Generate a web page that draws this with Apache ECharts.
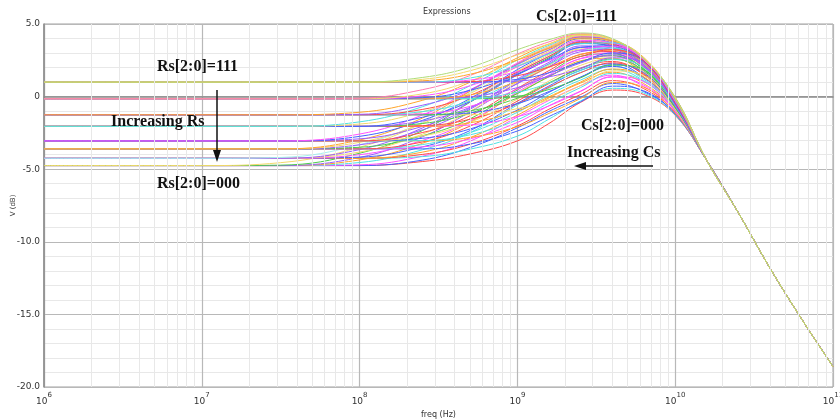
<!DOCTYPE html>
<html>
<head>
<meta charset="utf-8">
<title>Expressions</title>
<script src="https://cdn.jsdelivr.net/npm/echarts@6/dist/echarts.min.js"></script>
<style>
  html, body { margin: 0; padding: 0; background: #fff; }
  #chart { width: 840px; height: 419px; }
</style>
</head>
<body>
<div id="chart"></div>
<script>
// sample frequencies in Hz (1e6 ... 1e11)
const freqHz = [1e6, 1e7, 3.162e7, 1e8, 2.512e8, 5.012e8, 1e9, 1.585e9, 2.512e9, 3.981e9,
  6.310e9, 1e10, 1.585e10, 2.512e10, 3.981e10, 6.310e10, 1e11]

const rsCodes = ['000', '001', '010', '011', '100', '101', '110', '111']
const csCodes = ['000', '001', '010', '011', '100', '101', '110', '111']

// low frequency gain (dB) for each Rs code
const dcGain = [-4.75, -4.25, -3.6, -3.05, -2.05, -1.25, -0.15, 1.0]

// roll-off above 10 GHz, the same for every curve (dB at 15.8G, 25G, 40G, 63G, 100G)
const rollOff = [-4.4, -8.0, -11.8, -15.3, -18.6]

// mid band (31.6 MHz ... 10 GHz), one row per Cs code 000..111
const rs000 = [
  [-4.75, -4.75, -4.47, -3.95, -3.05, -1.85, -0.4, 0.45, 0.15, -1.29],
  [-4.75, -4.75, -4.37, -3.51, -2.15, -1.02, -0.05, 0.9, 0.35, -1.16],
  [-4.75, -4.7, -4.1, -3.07, -1.41, -0.26, 0.75, 1.48, 0.7, -0.97],
  [-4.75, -4.54, -3.66, -2.48, -0.57, 0.59, 1.67, 2.12, 1.2, -0.75],
  [-4.75, -4.36, -3.21, -1.76, 0.23, 1.36, 2.47, 2.65, 1.6, -0.55],
  [-4.75, -4.19, -2.76, -1.06, 0.92, 2.05, 3.19, 3.05, 1.9, -0.39],
  [-4.72, -3.9, -2.33, -0.39, 1.54, 2.67, 3.7, 3.4, 2.1, -0.27],
  [-4.55, -3.49, -1.79, 0.36, 2.19, 3.2, 3.98, 3.6, 2.2, -0.17]
]
const rs001 = [
  [-4.25, -4.25, -4.13, -3.62, -2.72, -1.55, -0.3, 0.57, 0.25, -1.26],
  [-4.25, -4.25, -3.98, -3.28, -2.02, -0.87, 0.14, 1.1, 0.55, -1.1],
  [-4.25, -4.25, -3.82, -2.83, -1.28, -0.09, 0.93, 1.68, 0.9, -0.91],
  [-4.25, -4.17, -3.46, -2.34, -0.47, 0.73, 1.81, 2.27, 1.35, -0.7],
  [-4.25, -4.0, -3.01, -1.69, 0.32, 1.48, 2.61, 2.8, 1.75, -0.51],
  [-4.25, -3.82, -2.58, -1.01, 1.01, 2.15, 3.28, 3.15, 2.0, -0.36],
  [-4.25, -3.65, -2.15, -0.35, 1.63, 2.77, 3.8, 3.5, 2.2, -0.23],
  [-4.19, -3.31, -1.75, 0.28, 2.16, 3.31, 4.08, 3.7, 2.3, -0.14]
]
const rs010 = [
  [-3.6, -3.6, -3.6, -3.27, -2.37, -1.37, -0.36, 0.72, 0.4, -1.21],
  [-3.6, -3.6, -3.46, -2.91, -1.78, -0.63, 0.38, 1.35, 0.8, -1.02],
  [-3.6, -3.6, -3.3, -2.49, -1.08, 0.12, 1.14, 1.88, 1.1, -0.84],
  [-3.6, -3.6, -3.12, -2.03, -0.31, 0.9, 1.97, 2.42, 1.5, -0.65],
  [-3.6, -3.49, -2.69, -1.53, 0.46, 1.65, 2.77, 2.95, 1.9, -0.46],
  [-3.6, -3.32, -2.28, -0.87, 1.13, 2.26, 3.39, 3.25, 2.1, -0.33],
  [-3.6, -3.15, -1.85, -0.21, 1.75, 2.88, 3.9, 3.6, 2.3, -0.2],
  [-3.6, -2.99, -1.47, 0.38, 2.26, 3.37, 4.13, 3.75, 2.35, -0.12]
]
const rs011 = [
  [-3.05, -3.05, -3.05, -2.82, -2.07, -1.16, -0.13, 0.97, 0.65, -1.13],
  [-3.05, -3.05, -3.03, -2.63, -1.6, -0.44, 0.62, 1.6, 1.05, -0.94],
  [-3.05, -3.05, -2.87, -2.23, -0.93, 0.29, 1.34, 2.08, 1.3, -0.78],
  [-3.05, -3.05, -2.7, -1.77, -0.17, 1.07, 2.15, 2.62, 1.7, -0.59],
  [-3.05, -3.05, -2.47, -1.32, 0.57, 1.79, 2.91, 3.1, 2.05, -0.41],
  [-3.05, -2.91, -2.05, -0.79, 1.21, 2.36, 3.49, 3.35, 2.2, -0.3],
  [-3.05, -2.74, -1.63, -0.13, 1.86, 2.99, 4.0, 3.7, 2.4, -0.17],
  [-3.05, -2.58, -1.26, 0.44, 2.32, 3.43, 4.18, 3.8, 2.4, -0.11]
]
const rs100 = [
  [-2.05, -2.05, -2.05, -1.95, -1.38, -0.64, 0.35, 1.37, 1.05, -1.0],
  [-2.05, -2.05, -2.05, -1.8, -0.99, -0.01, 1.0, 1.9, 1.35, -0.84],
  [-2.05, -2.05, -2.0, -1.56, -0.48, 0.65, 1.64, 2.33, 1.55, -0.7],
  [-2.05, -2.05, -1.85, -1.15, 0.21, 1.39, 2.4, 2.82, 1.9, -0.52],
  [-2.05, -2.05, -1.68, -0.74, 0.89, 2.05, 3.09, 3.25, 2.2, -0.36],
  [-2.05, -2.05, -1.42, -0.34, 1.49, 2.6, 3.65, 3.5, 2.35, -0.25],
  [-2.05, -1.89, -1.04, 0.21, 2.07, 3.11, 4.05, 3.75, 2.45, -0.15],
  [-2.05, -1.74, -0.69, 0.75, 2.52, 3.53, 4.23, 3.85, 2.45, -0.09]
]
const rs101 = [
  [-1.25, -1.25, -1.25, -1.25, -0.83, -0.21, 0.76, 1.77, 1.45, -0.87],
  [-1.25, -1.25, -1.25, -1.12, -0.48, 0.35, 1.33, 2.2, 1.65, -0.75],
  [-1.25, -1.25, -1.25, -0.98, -0.11, 0.95, 1.92, 2.58, 1.8, -0.62],
  [-1.25, -1.25, -1.18, -0.67, 0.51, 1.65, 2.62, 3.02, 2.1, -0.46],
  [-1.25, -1.25, -1.03, -0.3, 1.11, 2.22, 3.21, 3.35, 2.3, -0.33],
  [-1.25, -1.25, -0.88, 0.08, 1.69, 2.76, 3.75, 3.6, 2.45, -0.22],
  [-1.25, -1.22, -0.59, 0.47, 2.22, 3.22, 4.1, 3.8, 2.5, -0.14],
  [-1.25, -1.08, -0.25, 0.99, 2.67, 3.62, 4.28, 3.9, 2.5, -0.07]
]
const rs110 = [
  [-0.15, -0.15, -0.15, -0.15, 0.03, 0.49, 1.29, 2.17, 1.85, -0.75],
  [-0.15, -0.15, -0.15, -0.13, 0.3, 0.93, 1.8, 2.55, 2.0, -0.63],
  [-0.15, -0.15, -0.15, -0.01, 0.62, 1.44, 2.31, 2.88, 2.1, -0.52],
  [-0.15, -0.15, -0.15, 0.12, 1.03, 2.02, 2.89, 3.22, 2.3, -0.39],
  [-0.15, -0.15, -0.07, 0.43, 1.54, 2.54, 3.39, 3.5, 2.45, -0.28],
  [-0.15, -0.15, 0.06, 0.75, 2.05, 3.01, 3.87, 3.7, 2.55, -0.19],
  [-0.15, -0.15, 0.19, 1.07, 2.53, 3.43, 4.2, 3.9, 2.6, -0.11],
  [-0.15, -0.11, 0.48, 1.45, 2.93, 3.77, 4.33, 3.95, 2.55, -0.06]
]
const rs111 = [
  [1.0, 1.0, 1.0, 1.0, 1.07, 1.36, 1.94, 2.67, 2.35, -0.59],
  [1.0, 1.0, 1.0, 1.0, 1.19, 1.64, 2.38, 3.0, 2.45, -0.49],
  [1.0, 1.0, 1.0, 1.03, 1.44, 2.04, 2.76, 3.23, 2.45, -0.41],
  [1.0, 1.0, 1.0, 1.14, 1.72, 2.49, 3.21, 3.47, 2.55, -0.31],
  [1.0, 1.0, 1.0, 1.28, 2.11, 2.94, 3.64, 3.7, 2.65, -0.22],
  [1.0, 1.0, 1.09, 1.54, 2.52, 3.32, 4.03, 3.85, 2.7, -0.14],
  [1.0, 1.0, 1.19, 1.78, 2.88, 3.63, 4.25, 3.95, 2.65, -0.09],
  [1.0, 1.0, 1.32, 2.02, 3.23, 3.92, 4.38, 4.0, 2.6, -0.04]
]

const midBand = [rs000, rs001, rs010, rs011, rs100, rs101, rs110, rs111]

// line colours, same layout as the tables above (row = Rs, column = Cs)
const R = '#ff4a4a', O = '#ffa42a', Y = '#f3d86a', LG = '#aedc78', G = '#4ccc4c',
  C = '#4fe2e2', LC = '#a2efef', B = '#4463ff', V = '#9a5cff', M = '#ff52ff', P = '#ff7ab0'
const lineColors = [
  [R, B, M, C, O, V, G, Y],
  [C, R, O, B, M, Y, V, LC],
  [B, M, C, R, G, V, Y, O],
  [O, C, B, Y, R, V, B, M],
  [M, O, R, G, V, B, Y, C],
  [Y, B, G, M, C, R, V, O],
  [G, C, V, O, B, M, Y, P],
  [V, B, R, M, C, O, Y, LG]
]

// light grid lines at 2..9 of every decade
const minorFreq = []
for (let e = 6; e < 11; e++) {
  for (let k = 2; k <= 9; k++) minorFreq.push(k * Math.pow(10, e))
}

const series = [
  {
    type: 'line',
    data: [],
    silent: true,
    z: 1,
    markLine: {
      silent: true,
      symbol: 'none',
      animation: false,
      label: { show: false },
      lineStyle: { color: '#e8e8e8', width: 1, type: 'solid' },
      data: minorFreq.map((f) => ({ xAxis: f })),
    },
  },
]

rsCodes.forEach((rs, r) => {
  csCodes.forEach((cs, c) => {
    const dB = [dcGain[r], dcGain[r]].concat(midBand[r][c], rollOff)
    series.push({
      name: 'Rs=' + rs + ' Cs=' + cs,
      type: 'line',
      z: 2,
      showSymbol: false,
      symbol: 'none',
      smooth: 0.4,
      lineStyle: { width: 1, color: lineColors[r][c] },
      emphasis: { disabled: true },
      data: freqHz.map((f, i) => [f, dB[i]]),
    })
  })
})

const label = (text, x, y) => ({
  type: 'text',
  x: x,
  y: y,
  z: 50,
  style: {
    text: text,
    font: 'bold 16px "Liberation Serif", "DejaVu Serif", serif',
    fill: '#111',
    align: 'left',
    verticalAlign: 'middle',
    textAlign: 'left',
    textVerticalAlign: 'middle',
  },
})

const chart = echarts.init(document.getElementById('chart'))
chart.setOption({
  animation: false,
  title: {
    text: 'Expressions',
    left: 418,
    top: 3,
    textStyle: { fontSize: 8, fontWeight: 'normal', color: '#333', fontFamily: 'DejaVu Sans' },
  },
  grid: {
    left: 44,
    right: 7,
    top: 24,
    bottom: 32,
    outerBoundsMode: 'none',
    containLabel: false,
    show: true,
    borderColor: '#a0a0a0',
    borderWidth: 1,
  },
  xAxis: {
    type: 'log',
    logBase: 10,
    min: 1e6,
    max: 1e11,
    splitNumber: 5,
    name: 'freq (Hz)',
    nameLocation: 'middle',
    nameGap: 24,
    nameMoveOverlap: false,
    nameTextStyle: { fontSize: 8, color: '#333', fontFamily: 'DejaVu Sans' },
    axisLine: { lineStyle: { color: '#8a8a8a', width: 1.5 } },
    axisTick: { show: false },
    splitLine: { show: true, lineStyle: { color: '#b8b8b8', width: 1.2 } },
    axisLabel: {
      margin: 5,
      formatter: (v) => '{b|10}{s|' + Math.round(Math.log10(v)) + '}',
      rich: {
        b: { fontSize: 9, color: '#333', fontFamily: 'DejaVu Sans', lineHeight: 14, verticalAlign: 'bottom' },
        s: { fontSize: 7, color: '#333', fontFamily: 'DejaVu Sans', lineHeight: 14, verticalAlign: 'top' },
      },
    },
  },
  yAxis: {
    type: 'value',
    min: -20,
    max: 5,
    interval: 5,
    name: 'V (dB)',
    nameLocation: 'middle',
    nameRotate: 90,
    nameGap: 27,
    nameMoveOverlap: false,
    nameTextStyle: { fontSize: 7, color: '#333', fontFamily: 'DejaVu Sans' },
    axisLine: { show: true, lineStyle: { color: '#8a8a8a', width: 1.5 } },
    axisTick: { show: false },
    minorTick: { show: false, splitNumber: 5 },
    splitLine: { show: true, lineStyle: { color: '#b8b8b8', width: 1.2 } },
    minorSplitLine: { show: true, lineStyle: { color: '#e8e8e8', width: 1 } },
    axisLabel: {
      margin: 4,
      fontSize: 9,
      color: '#333',
      fontFamily: 'DejaVu Sans',
      formatter: (v) => (v === 0 ? '0' : v.toFixed(1)),
    },
  },
  graphic: [
    label('Rs[2:0]=111', 157, 67),
    label('Increasing Rs', 111, 122),
    label('Rs[2:0]=000', 157, 184),
    label('Cs[2:0]=111', 536, 17),
    label('Cs[2:0]=000', 581, 126),
    label('Increasing Cs', 567, 153),
    // Rs arrow (down)
    { type: 'line', z: 50, shape: { x1: 217, y1: 90, x2: 217, y2: 152 }, style: { stroke: '#111', lineWidth: 1.5 } },
    { type: 'polygon', z: 50, shape: { points: [[213, 150], [221, 150], [217, 162]] }, style: { fill: '#111' } },
    // Cs arrow (left)
    { type: 'line', z: 50, shape: { x1: 653, y1: 166, x2: 584, y2: 166 }, style: { stroke: '#111', lineWidth: 1.5 } },
    { type: 'polygon', z: 50, shape: { points: [[586, 162], [586, 170], [574, 166]] }, style: { fill: '#111' } },
  ],
  series: series,
})
</script>
</body>
</html>
